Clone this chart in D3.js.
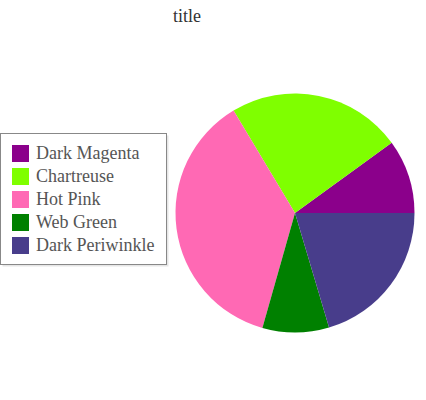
<!DOCTYPE html>
<html><head><meta charset="utf-8">
<script src="https://cdn.jsdelivr.net/npm/d3@7"></script>
<style>body{margin:0;background:#fff}</style>
</head><body>
<svg id="chart" width="426" height="400"></svg>
<script>
const categories = ["Dark Magenta", "Chartreuse", "Hot Pink", "Web Green", "Dark Periwinkle"];
const values = [10, 23.6, 37, 9, 20.4];
const colors = ["#8B008B", "#7FFF00", "#FF69B4", "#008000", "#483D8B"];
const title = "title";

const svg = d3.select("#chart");
const font = "'Liberation Serif', serif";

svg.append("text").attr("x", 187).attr("y", 22).attr("text-anchor", "middle")
  .style("font-family", font).attr("font-size", 18).attr("fill", "#333").text(title);

const data = categories.map((c, i) => ({name: c, value: values[i], color: colors[i]}));
const pie = d3.pie().value(d => d.value).sort(null)
  .startAngle(Math.PI / 2).endAngle(Math.PI / 2 - 2 * Math.PI);
const arc = d3.arc().innerRadius(0).outerRadius(119.5);
const g = svg.append("g").attr("transform", "translate(295,213)");
g.selectAll("path").data(pie(data)).join("path")
  .attr("d", arc).attr("fill", d => d.data.color);

// legend
const lg = svg.append("g");
lg.append("rect").attr("x", 2.5).attr("y", 135.5).attr("width", 166).attr("height", 131)
  .attr("fill", "#e6e6e6");
lg.append("rect").attr("x", 0.5).attr("y", 133.5).attr("width", 166).attr("height", 131)
  .attr("fill", "#fff").attr("stroke", "#888").attr("stroke-width", 1);
const y = d3.scaleBand().domain(categories).range([145, 145 + 23 * categories.length]);
const items = lg.selectAll("g.item").data(data).join("g").attr("class", "item")
  .attr("transform", d => `translate(12,${y(d.name)})`);
items.append("rect").attr("width", 17).attr("height", 17).attr("fill", d => d.color);
items.append("text").attr("x", 24).attr("y", 14).style("font-family", font)
  .attr("font-size", 18).attr("fill", "#555").text(d => d.name);
</script>
</body></html>
